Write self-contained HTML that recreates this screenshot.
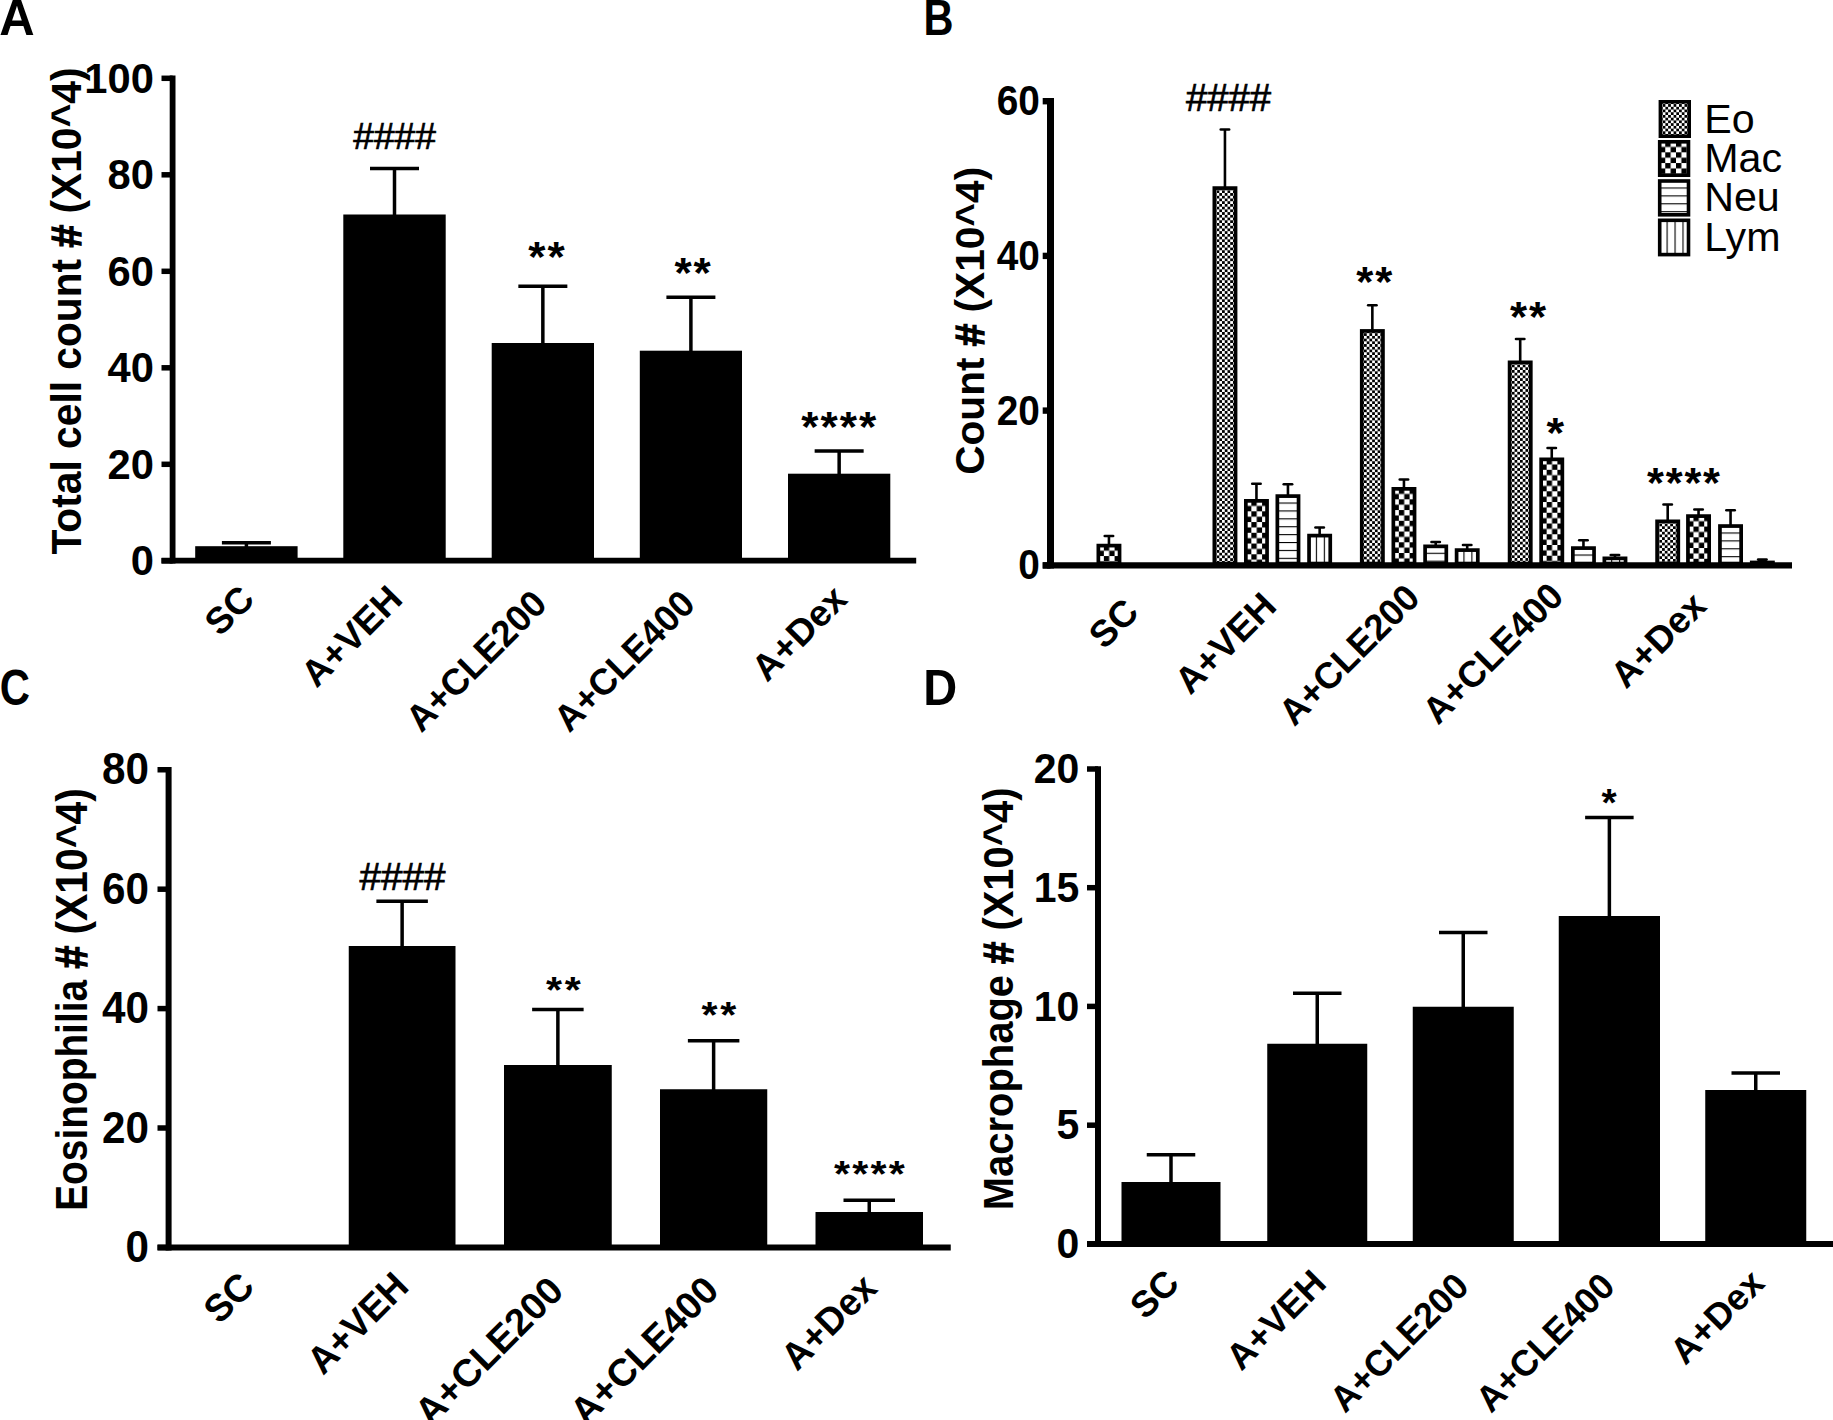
<!DOCTYPE html>
<html lang="en">
<head>
<meta charset="utf-8">
<title>Figure: BAL cell counts</title>
<style>
html,body{margin:0;padding:0;background:#fff;}
body{width:1833px;height:1420px;overflow:hidden;}
svg{display:block;}
svg text{font-family:"Liberation Sans", Arial, sans-serif;fill:#000;}
</style>
</head>
<body>
<svg width="1833" height="1420" viewBox="0 0 1833 1420">
<defs>
<pattern id="p-eo" x="1.36" y="1.36" width="5.45" height="5.45" patternUnits="userSpaceOnUse">
<rect width="5.45" height="5.45" fill="#fff"/>
<rect x="0" y="0" width="2.725" height="2.725" fill="#000"/>
<rect x="2.725" y="2.725" width="2.725" height="2.725" fill="#000"/>
</pattern>
<pattern id="p-mac" x="7.35" y="1.58" width="10.74" height="10.74" patternUnits="userSpaceOnUse">
<rect width="10.74" height="10.74" fill="#fff"/>
<rect x="0" y="0" width="5.37" height="5.37" fill="#000"/>
<rect x="5.37" y="5.37" width="5.37" height="5.37" fill="#000"/>
</pattern>
<pattern id="p-neu" x="0" y="0.35" width="7.9" height="7.9" patternUnits="userSpaceOnUse">
<rect width="7.9" height="7.9" fill="#fff"/>
<rect x="0" y="0" width="7.9" height="1.1" fill="#000"/>
</pattern>
<pattern id="p-lym" x="0.7" y="0" width="7.95" height="7.95" patternUnits="userSpaceOnUse">
<rect width="7.95" height="7.95" fill="#fff"/>
<rect x="0" y="0" width="1.1" height="7.95" fill="#000"/>
</pattern>
</defs>
<rect width="1833" height="1420" fill="#fff"/>

<text transform="translate(-0.8 34.9) scale(0.99 1)" font-size="49.5" font-weight="bold" text-anchor="start">A</text>
<text transform="translate(923.4 34.9) scale(0.84 1)" font-size="49.5" font-weight="bold" text-anchor="start">B</text>
<text transform="translate(-0.2 704.8) scale(0.845 1)" font-size="49.5" font-weight="bold" text-anchor="start">C</text>
<text transform="translate(923.2 704.5) scale(0.95 1)" font-size="49.5" font-weight="bold" text-anchor="start">D</text>
<line x1="246.4" y1="542.7" x2="246.4" y2="548.2" stroke="#000" stroke-width="3.5" stroke-linecap="butt"/>
<line x1="221.9" y1="542.7" x2="270.9" y2="542.7" stroke="#000" stroke-width="3.5" stroke-linecap="butt"/>
<rect x="195.20" y="546.20" width="102.40" height="14.40" fill="#000"/>
<line x1="394.5" y1="168.5" x2="394.5" y2="216.5" stroke="#000" stroke-width="3.5" stroke-linecap="butt"/>
<line x1="370.0" y1="168.5" x2="419.0" y2="168.5" stroke="#000" stroke-width="3.5" stroke-linecap="butt"/>
<rect x="343.30" y="214.50" width="102.40" height="346.10" fill="#000"/>
<line x1="542.85" y1="286.2" x2="542.85" y2="345.0" stroke="#000" stroke-width="3.5" stroke-linecap="butt"/>
<line x1="518.35" y1="286.2" x2="567.35" y2="286.2" stroke="#000" stroke-width="3.5" stroke-linecap="butt"/>
<rect x="491.70" y="343.00" width="102.30" height="217.60" fill="#000"/>
<line x1="690.9" y1="297.2" x2="690.9" y2="352.7" stroke="#000" stroke-width="3.5" stroke-linecap="butt"/>
<line x1="666.4" y1="297.2" x2="715.4" y2="297.2" stroke="#000" stroke-width="3.5" stroke-linecap="butt"/>
<rect x="639.80" y="350.70" width="102.20" height="209.90" fill="#000"/>
<line x1="839.15" y1="451.0" x2="839.15" y2="475.7" stroke="#000" stroke-width="3.5" stroke-linecap="butt"/>
<line x1="814.65" y1="451.0" x2="863.65" y2="451.0" stroke="#000" stroke-width="3.5" stroke-linecap="butt"/>
<rect x="788.00" y="473.70" width="102.30" height="86.90" fill="#000"/>
<line x1="172.6" y1="75.6" x2="172.6" y2="563.5" stroke="#000" stroke-width="5.8" stroke-linecap="butt"/>
<line x1="161.5" y1="560.6" x2="916.2" y2="560.6" stroke="#000" stroke-width="5.8" stroke-linecap="butt"/>
<line x1="161.5" y1="78.3" x2="172.6" y2="78.3" stroke="#000" stroke-width="5.5" stroke-linecap="butt"/>
<text transform="translate(153.9 92.77) scale(1 1.04)" font-size="41.7" font-weight="bold" text-anchor="end">100</text>
<line x1="161.5" y1="174.8" x2="172.6" y2="174.8" stroke="#000" stroke-width="5.5" stroke-linecap="butt"/>
<text transform="translate(153.9 189.27) scale(1 1.04)" font-size="41.7" font-weight="bold" text-anchor="end">80</text>
<line x1="161.5" y1="271.3" x2="172.6" y2="271.3" stroke="#000" stroke-width="5.5" stroke-linecap="butt"/>
<text transform="translate(153.9 285.77) scale(1 1.04)" font-size="41.7" font-weight="bold" text-anchor="end">60</text>
<line x1="161.5" y1="367.8" x2="172.6" y2="367.8" stroke="#000" stroke-width="5.5" stroke-linecap="butt"/>
<text transform="translate(153.9 382.27) scale(1 1.04)" font-size="41.7" font-weight="bold" text-anchor="end">40</text>
<line x1="161.5" y1="464.3" x2="172.6" y2="464.3" stroke="#000" stroke-width="5.5" stroke-linecap="butt"/>
<text transform="translate(153.9 478.77) scale(1 1.04)" font-size="41.7" font-weight="bold" text-anchor="end">20</text>
<line x1="161.5" y1="560.8" x2="172.6" y2="560.8" stroke="#000" stroke-width="5.5" stroke-linecap="butt"/>
<text transform="translate(153.9 575.27) scale(1 1.04)" font-size="41.7" font-weight="bold" text-anchor="end">0</text>
<text transform="translate(81.3 311) rotate(-90) scale(0.97 1)" font-size="42" font-weight="bold" text-anchor="middle">Total cell count <tspan stroke="#000" stroke-width="1.3" stroke-linejoin="miter">#</tspan> (X10^4)</text>
<text transform="translate(256.4 601.1) rotate(-45)" font-size="37" font-weight="bold" text-anchor="end">SC</text>
<text transform="translate(404.5 601.1) rotate(-45)" font-size="37" font-weight="bold" text-anchor="end">A+VEH</text>
<text transform="translate(548.85 606.1) rotate(-45) scale(0.98 1)" font-size="37" font-weight="bold" text-anchor="end">A+CLE200</text>
<text transform="translate(696.9 606.1) rotate(-45) scale(0.98 1)" font-size="37" font-weight="bold" text-anchor="end">A+CLE400</text>
<text transform="translate(849.15 601.1) rotate(-45)" font-size="37" font-weight="bold" text-anchor="end">A+Dex</text>
<text transform="translate(394.6 149.3)" font-size="37.2" font-weight="normal" text-anchor="middle" stroke="#000" stroke-width="0.7">####</text>
<line x1="1108.95" y1="536.0" x2="1108.95" y2="544.75" stroke="#000" stroke-width="2.6" stroke-linecap="butt"/>
<line x1="1104.75" y1="536.0" x2="1113.15" y2="536.0" stroke="#000" stroke-width="2.6" stroke-linecap="round"/>
<g transform="translate(1096.50 543.75)">
<rect x="1.85" y="1.85" width="21.20" height="17.95" fill="url(#p-mac)" stroke="#000" stroke-width="3.7"/>
</g>
<line x1="1224.95" y1="129.5" x2="1224.95" y2="187.25" stroke="#000" stroke-width="2.6" stroke-linecap="butt"/>
<line x1="1220.75" y1="129.5" x2="1229.15" y2="129.5" stroke="#000" stroke-width="2.6" stroke-linecap="round"/>
<g transform="translate(1212.50 186.25)">
<rect x="1.85" y="1.85" width="21.20" height="375.45" fill="url(#p-eo)" stroke="#000" stroke-width="3.7"/>
</g>
<line x1="1256.45" y1="483.75" x2="1256.45" y2="500.0" stroke="#000" stroke-width="2.6" stroke-linecap="butt"/>
<line x1="1252.25" y1="483.75" x2="1260.65" y2="483.75" stroke="#000" stroke-width="2.6" stroke-linecap="round"/>
<g transform="translate(1244.00 499.00)">
<rect x="1.85" y="1.85" width="21.20" height="62.70" fill="url(#p-mac)" stroke="#000" stroke-width="3.7"/>
</g>
<line x1="1287.95" y1="484.25" x2="1287.95" y2="495.25" stroke="#000" stroke-width="2.6" stroke-linecap="butt"/>
<line x1="1283.75" y1="484.25" x2="1292.15" y2="484.25" stroke="#000" stroke-width="2.6" stroke-linecap="round"/>
<g transform="translate(1275.50 494.25)">
<rect x="1.85" y="1.85" width="21.20" height="67.45" fill="url(#p-neu)" stroke="#000" stroke-width="3.7"/>
</g>
<line x1="1319.65" y1="527.5" x2="1319.65" y2="534.75" stroke="#000" stroke-width="2.6" stroke-linecap="butt"/>
<line x1="1315.45" y1="527.5" x2="1323.8500000000001" y2="527.5" stroke="#000" stroke-width="2.6" stroke-linecap="round"/>
<g transform="translate(1307.20 533.75)">
<rect x="1.85" y="1.85" width="21.20" height="27.95" fill="url(#p-lym)" stroke="#000" stroke-width="3.7"/>
</g>
<line x1="1372.3500000000001" y1="305.2" x2="1372.3500000000001" y2="330.1" stroke="#000" stroke-width="2.6" stroke-linecap="butt"/>
<line x1="1368.15" y1="305.2" x2="1376.5500000000002" y2="305.2" stroke="#000" stroke-width="2.6" stroke-linecap="round"/>
<g transform="translate(1359.90 329.10)">
<rect x="1.85" y="1.85" width="21.20" height="232.60" fill="url(#p-eo)" stroke="#000" stroke-width="3.7"/>
</g>
<line x1="1403.95" y1="479.5" x2="1403.95" y2="488.0" stroke="#000" stroke-width="2.6" stroke-linecap="butt"/>
<line x1="1399.75" y1="479.5" x2="1408.15" y2="479.5" stroke="#000" stroke-width="2.6" stroke-linecap="round"/>
<g transform="translate(1391.50 487.00)">
<rect x="1.85" y="1.85" width="21.20" height="74.70" fill="url(#p-mac)" stroke="#000" stroke-width="3.7"/>
</g>
<line x1="1435.7" y1="542.0" x2="1435.7" y2="545.5" stroke="#000" stroke-width="2.6" stroke-linecap="butt"/>
<line x1="1431.5" y1="542.0" x2="1439.9" y2="542.0" stroke="#000" stroke-width="2.6" stroke-linecap="round"/>
<g transform="translate(1423.25 544.50)">
<rect x="1.85" y="1.85" width="21.20" height="17.20" fill="url(#p-neu)" stroke="#000" stroke-width="3.7"/>
</g>
<line x1="1467.2" y1="545.0" x2="1467.2" y2="549.25" stroke="#000" stroke-width="2.6" stroke-linecap="butt"/>
<line x1="1463.0" y1="545.0" x2="1471.4" y2="545.0" stroke="#000" stroke-width="2.6" stroke-linecap="round"/>
<g transform="translate(1454.75 548.25)">
<rect x="1.85" y="1.85" width="21.20" height="13.45" fill="url(#p-lym)" stroke="#000" stroke-width="3.7"/>
</g>
<line x1="1520.2" y1="339.0" x2="1520.2" y2="361.5" stroke="#000" stroke-width="2.6" stroke-linecap="butt"/>
<line x1="1516.0" y1="339.0" x2="1524.4" y2="339.0" stroke="#000" stroke-width="2.6" stroke-linecap="round"/>
<g transform="translate(1507.75 360.50)">
<rect x="1.85" y="1.85" width="21.20" height="201.20" fill="url(#p-eo)" stroke="#000" stroke-width="3.7"/>
</g>
<line x1="1551.75" y1="448.0" x2="1551.75" y2="458.5" stroke="#000" stroke-width="2.6" stroke-linecap="butt"/>
<line x1="1547.55" y1="448.0" x2="1555.95" y2="448.0" stroke="#000" stroke-width="2.6" stroke-linecap="round"/>
<g transform="translate(1539.30 457.50)">
<rect x="1.85" y="1.85" width="21.20" height="104.20" fill="url(#p-mac)" stroke="#000" stroke-width="3.7"/>
</g>
<line x1="1583.45" y1="540.25" x2="1583.45" y2="547.25" stroke="#000" stroke-width="2.6" stroke-linecap="butt"/>
<line x1="1579.25" y1="540.25" x2="1587.65" y2="540.25" stroke="#000" stroke-width="2.6" stroke-linecap="round"/>
<g transform="translate(1571.00 546.25)">
<rect x="1.85" y="1.85" width="21.20" height="15.45" fill="url(#p-neu)" stroke="#000" stroke-width="3.7"/>
</g>
<line x1="1614.95" y1="555.0" x2="1614.95" y2="557.5" stroke="#000" stroke-width="2.6" stroke-linecap="butt"/>
<line x1="1610.75" y1="555.0" x2="1619.15" y2="555.0" stroke="#000" stroke-width="2.6" stroke-linecap="round"/>
<g transform="translate(1602.50 556.50)">
<rect x="1.85" y="1.85" width="21.20" height="5.20" fill="url(#p-lym)" stroke="#000" stroke-width="3.7"/>
</g>
<line x1="1667.7" y1="504.5" x2="1667.7" y2="520.5" stroke="#000" stroke-width="2.6" stroke-linecap="butt"/>
<line x1="1663.5" y1="504.5" x2="1671.9" y2="504.5" stroke="#000" stroke-width="2.6" stroke-linecap="round"/>
<g transform="translate(1655.25 519.50)">
<rect x="1.85" y="1.85" width="21.20" height="42.20" fill="url(#p-eo)" stroke="#000" stroke-width="3.7"/>
</g>
<line x1="1698.55" y1="509.5" x2="1698.55" y2="515.25" stroke="#000" stroke-width="2.6" stroke-linecap="butt"/>
<line x1="1694.35" y1="509.5" x2="1702.75" y2="509.5" stroke="#000" stroke-width="2.6" stroke-linecap="round"/>
<g transform="translate(1686.10 514.25)">
<rect x="1.85" y="1.85" width="21.20" height="47.45" fill="url(#p-mac)" stroke="#000" stroke-width="3.7"/>
</g>
<line x1="1730.55" y1="510.25" x2="1730.55" y2="525.2" stroke="#000" stroke-width="2.6" stroke-linecap="butt"/>
<line x1="1726.35" y1="510.25" x2="1734.75" y2="510.25" stroke="#000" stroke-width="2.6" stroke-linecap="round"/>
<g transform="translate(1718.10 524.20)">
<rect x="1.85" y="1.85" width="21.20" height="37.50" fill="url(#p-neu)" stroke="#000" stroke-width="3.7"/>
</g>
<line x1="1762.3500000000001" y1="559.6" x2="1762.3500000000001" y2="561.6" stroke="#000" stroke-width="2.6" stroke-linecap="butt"/>
<line x1="1758.15" y1="559.6" x2="1766.5500000000002" y2="559.6" stroke="#000" stroke-width="2.6" stroke-linecap="round"/>
<g transform="translate(1749.90 560.60)">
<rect x="1.85" y="1.85" width="21.20" height="1.10" fill="url(#p-lym)" stroke="#000" stroke-width="3.7"/>
</g>
<line x1="1050.5" y1="98.0" x2="1050.5" y2="568.6" stroke="#000" stroke-width="7.0" stroke-linecap="butt"/>
<line x1="1042.7" y1="565.4" x2="1792" y2="565.4" stroke="#000" stroke-width="6.4" stroke-linecap="butt"/>
<line x1="1042.7" y1="101.2" x2="1050.5" y2="101.2" stroke="#000" stroke-width="6.4" stroke-linecap="butt"/>
<text transform="translate(1039.9 115.2) scale(0.925 1)" font-size="42" font-weight="bold" text-anchor="end">60</text>
<line x1="1042.7" y1="255.9" x2="1050.5" y2="255.9" stroke="#000" stroke-width="6.4" stroke-linecap="butt"/>
<text transform="translate(1039.9 269.9) scale(0.925 1)" font-size="42" font-weight="bold" text-anchor="end">40</text>
<line x1="1042.7" y1="410.6" x2="1050.5" y2="410.6" stroke="#000" stroke-width="6.4" stroke-linecap="butt"/>
<text transform="translate(1039.9 424.6) scale(0.925 1)" font-size="42" font-weight="bold" text-anchor="end">20</text>
<line x1="1042.7" y1="565.4" x2="1050.5" y2="565.4" stroke="#000" stroke-width="6.4" stroke-linecap="butt"/>
<text transform="translate(1039.9 579.4) scale(0.925 1)" font-size="42" font-weight="bold" text-anchor="end">0</text>
<text transform="translate(984.3 320.8) rotate(-90) scale(0.988 1)" font-size="41.1" font-weight="bold" text-anchor="middle">Count <tspan stroke="#000" stroke-width="1.3" stroke-linejoin="miter">#</tspan> (X10^4)</text>
<text transform="translate(1140.65 614.1) rotate(-45)" font-size="37" font-weight="bold" text-anchor="end">SC</text>
<text transform="translate(1278.3 608.1) rotate(-45)" font-size="37" font-weight="bold" text-anchor="end">A+VEH</text>
<text transform="translate(1421.75 600.0) rotate(-45) scale(0.98 1)" font-size="37" font-weight="bold" text-anchor="end">A+CLE200</text>
<text transform="translate(1565.5 598.4) rotate(-45) scale(0.98 1)" font-size="37" font-weight="bold" text-anchor="end">A+CLE400</text>
<text transform="translate(1708.2 607.9) rotate(-45)" font-size="37" font-weight="bold" text-anchor="end">A+Dex</text>
<text transform="translate(1228.5 110.8)" font-size="38.3" font-weight="normal" text-anchor="middle" stroke="#000" stroke-width="0.7">####</text>
<g transform="translate(1658.60 100.00)">
<rect x="1.80" y="1.80" width="28.80" height="34.40" fill="url(#p-eo)" stroke="#000" stroke-width="3.6"/>
</g>
<text transform="translate(1704.2 132.8) scale(1.035 1)" font-size="39.8" font-weight="normal" text-anchor="start">Eo</text>
<g transform="translate(1657.90 140.00)">
<rect x="1.80" y="1.80" width="28.80" height="33.40" fill="url(#p-mac)" stroke="#000" stroke-width="3.6"/>
</g>
<text transform="translate(1704.2 172.1) scale(1.035 1)" font-size="39.8" font-weight="normal" text-anchor="start">Mac</text>
<g transform="translate(1657.90 179.20)">
<rect x="1.80" y="1.80" width="28.80" height="33.80" fill="url(#p-neu)" stroke="#000" stroke-width="3.6"/>
</g>
<text transform="translate(1704.2 211.4) scale(1.035 1)" font-size="39.8" font-weight="normal" text-anchor="start">Neu</text>
<g transform="translate(1657.90 218.50)">
<rect x="1.80" y="1.80" width="28.80" height="34.30" fill="url(#p-lym)" stroke="#000" stroke-width="3.6"/>
</g>
<text transform="translate(1704.2 250.9) scale(1.035 1)" font-size="39.8" font-weight="normal" text-anchor="start">Lym</text>
<line x1="402.125" y1="901.25" x2="402.125" y2="948.0" stroke="#000" stroke-width="3.5" stroke-linecap="butt"/>
<line x1="376.375" y1="901.25" x2="427.875" y2="901.25" stroke="#000" stroke-width="3.5" stroke-linecap="butt"/>
<rect x="348.75" y="946.00" width="106.75" height="301.50" fill="#000"/>
<line x1="557.875" y1="1009.5" x2="557.875" y2="1067.0" stroke="#000" stroke-width="3.5" stroke-linecap="butt"/>
<line x1="532.125" y1="1009.5" x2="583.625" y2="1009.5" stroke="#000" stroke-width="3.5" stroke-linecap="butt"/>
<rect x="504.00" y="1065.00" width="107.75" height="182.50" fill="#000"/>
<line x1="713.625" y1="1040.75" x2="713.625" y2="1091.25" stroke="#000" stroke-width="3.5" stroke-linecap="butt"/>
<line x1="687.875" y1="1040.75" x2="739.375" y2="1040.75" stroke="#000" stroke-width="3.5" stroke-linecap="butt"/>
<rect x="660.00" y="1089.25" width="107.25" height="158.25" fill="#000"/>
<line x1="869.25" y1="1200.25" x2="869.25" y2="1214.0" stroke="#000" stroke-width="3.5" stroke-linecap="butt"/>
<line x1="843.5" y1="1200.25" x2="895.0" y2="1200.25" stroke="#000" stroke-width="3.5" stroke-linecap="butt"/>
<rect x="815.50" y="1212.00" width="107.50" height="35.50" fill="#000"/>
<line x1="168.6" y1="766.95" x2="168.6" y2="1250.5" stroke="#000" stroke-width="6" stroke-linecap="butt"/>
<line x1="157.5" y1="1247.5" x2="950.75" y2="1247.5" stroke="#000" stroke-width="6" stroke-linecap="butt"/>
<line x1="157.5" y1="769.75" x2="168.6" y2="769.75" stroke="#000" stroke-width="5.5" stroke-linecap="butt"/>
<text transform="translate(148.9 784.39) scale(1 1.04)" font-size="42.2" font-weight="bold" text-anchor="end">80</text>
<line x1="157.5" y1="889.2" x2="168.6" y2="889.2" stroke="#000" stroke-width="5.5" stroke-linecap="butt"/>
<text transform="translate(148.9 903.84) scale(1 1.04)" font-size="42.2" font-weight="bold" text-anchor="end">60</text>
<line x1="157.5" y1="1008.6" x2="168.6" y2="1008.6" stroke="#000" stroke-width="5.5" stroke-linecap="butt"/>
<text transform="translate(148.9 1023.24) scale(1 1.04)" font-size="42.2" font-weight="bold" text-anchor="end">40</text>
<line x1="157.5" y1="1128.0" x2="168.6" y2="1128.0" stroke="#000" stroke-width="5.5" stroke-linecap="butt"/>
<text transform="translate(148.9 1142.64) scale(1 1.04)" font-size="42.2" font-weight="bold" text-anchor="end">20</text>
<line x1="157.5" y1="1247.5" x2="168.6" y2="1247.5" stroke="#000" stroke-width="5.5" stroke-linecap="butt"/>
<text transform="translate(148.9 1262.14) scale(1 1.04)" font-size="42.2" font-weight="bold" text-anchor="end">0</text>
<text transform="translate(86.7 1210.8) rotate(-90)" font-size="44.4" font-weight="bold" text-anchor="start" xml:space="preserve"><tspan textLength="230.9" lengthAdjust="spacingAndGlyphs">Eosinophilia</tspan><tspan textLength="191.8" lengthAdjust="spacingAndGlyphs"> <tspan stroke="#000" stroke-width="1.3">#</tspan> (X10^4)</tspan></text>
<text transform="translate(256.3 1288.5) rotate(-45) scale(0.98 1)" font-size="38.3" font-weight="bold" text-anchor="end">SC</text>
<text transform="translate(410.73 1288.3) rotate(-45) scale(0.965 1)" font-size="38.3" font-weight="bold" text-anchor="end">A+VEH</text>
<text transform="translate(565.48 1293.0) rotate(-45)" font-size="38.3" font-weight="bold" text-anchor="end">A+CLE200</text>
<text transform="translate(720.73 1292.5) rotate(-45)" font-size="38.3" font-weight="bold" text-anchor="end">A+CLE400</text>
<text transform="translate(879.05 1290.1) rotate(-45) scale(0.965 1)" font-size="38.3" font-weight="bold" text-anchor="end">A+Dex</text>
<text transform="translate(402.5 890.2)" font-size="38.7" font-weight="normal" text-anchor="middle" stroke="#000" stroke-width="0.7">####</text>
<line x1="1171.0" y1="1154.75" x2="1171.0" y2="1184.0" stroke="#000" stroke-width="3.5" stroke-linecap="butt"/>
<line x1="1146.75" y1="1154.75" x2="1195.25" y2="1154.75" stroke="#000" stroke-width="3.5" stroke-linecap="butt"/>
<rect x="1121.50" y="1182.00" width="99.00" height="62.00" fill="#000"/>
<line x1="1317.25" y1="993.25" x2="1317.25" y2="1045.75" stroke="#000" stroke-width="3.5" stroke-linecap="butt"/>
<line x1="1293.0" y1="993.25" x2="1341.5" y2="993.25" stroke="#000" stroke-width="3.5" stroke-linecap="butt"/>
<rect x="1267.25" y="1043.75" width="100.00" height="200.25" fill="#000"/>
<line x1="1463.25" y1="932.5" x2="1463.25" y2="1008.75" stroke="#000" stroke-width="3.5" stroke-linecap="butt"/>
<line x1="1439.0" y1="932.5" x2="1487.5" y2="932.5" stroke="#000" stroke-width="3.5" stroke-linecap="butt"/>
<rect x="1412.75" y="1006.75" width="101.00" height="237.25" fill="#000"/>
<line x1="1609.375" y1="817.5" x2="1609.375" y2="918.0" stroke="#000" stroke-width="3.5" stroke-linecap="butt"/>
<line x1="1585.125" y1="817.5" x2="1633.625" y2="817.5" stroke="#000" stroke-width="3.5" stroke-linecap="butt"/>
<rect x="1558.75" y="916.00" width="101.25" height="328.00" fill="#000"/>
<line x1="1755.75" y1="1073.0" x2="1755.75" y2="1092.0" stroke="#000" stroke-width="3.5" stroke-linecap="butt"/>
<line x1="1731.5" y1="1073.0" x2="1780.0" y2="1073.0" stroke="#000" stroke-width="3.5" stroke-linecap="butt"/>
<rect x="1705.25" y="1090.00" width="101.00" height="154.00" fill="#000"/>
<line x1="1098.0" y1="766.2" x2="1098.0" y2="1247.0" stroke="#000" stroke-width="6" stroke-linecap="butt"/>
<line x1="1087.0" y1="1244.0" x2="1835" y2="1244.0" stroke="#000" stroke-width="6" stroke-linecap="butt"/>
<line x1="1087.0" y1="769.0" x2="1098.0" y2="769.0" stroke="#000" stroke-width="5.5" stroke-linecap="butt"/>
<text transform="translate(1079.3 783.23) scale(1 1.04)" font-size="41" font-weight="bold" text-anchor="end">20</text>
<line x1="1087.0" y1="887.7" x2="1098.0" y2="887.7" stroke="#000" stroke-width="5.5" stroke-linecap="butt"/>
<text transform="translate(1079.3 901.93) scale(1 1.04)" font-size="41" font-weight="bold" text-anchor="end">15</text>
<line x1="1087.0" y1="1006.4" x2="1098.0" y2="1006.4" stroke="#000" stroke-width="5.5" stroke-linecap="butt"/>
<text transform="translate(1079.3 1020.63) scale(1 1.04)" font-size="41" font-weight="bold" text-anchor="end">10</text>
<line x1="1087.0" y1="1125.2" x2="1098.0" y2="1125.2" stroke="#000" stroke-width="5.5" stroke-linecap="butt"/>
<text transform="translate(1079.3 1139.43) scale(1 1.04)" font-size="41" font-weight="bold" text-anchor="end">5</text>
<line x1="1087.0" y1="1244.0" x2="1098.0" y2="1244.0" stroke="#000" stroke-width="5.5" stroke-linecap="butt"/>
<text transform="translate(1079.3 1258.23) scale(1 1.04)" font-size="41" font-weight="bold" text-anchor="end">0</text>
<text transform="translate(1013.1 998.8) rotate(-90) scale(0.951 1)" font-size="42" font-weight="bold" text-anchor="middle">Macrophage <tspan stroke="#000" stroke-width="1.3" stroke-linejoin="miter">#</tspan> (X10^4)</text>
<text transform="translate(1181.2 1285.0) rotate(-45)" font-size="36.5" font-weight="bold" text-anchor="end">SC</text>
<text transform="translate(1328.05 1285.3) rotate(-45)" font-size="36.5" font-weight="bold" text-anchor="end">A+VEH</text>
<text transform="translate(1470.75 1288.5) rotate(-45) scale(0.98 1)" font-size="36.5" font-weight="bold" text-anchor="end">A+CLE200</text>
<text transform="translate(1616.88 1288.5) rotate(-45) scale(0.98 1)" font-size="36.5" font-weight="bold" text-anchor="end">A+CLE400</text>
<text transform="translate(1766.25 1285.2) rotate(-45)" font-size="36.5" font-weight="bold" text-anchor="end">A+Dex</text>
<text transform="translate(528.2 271.38) scale(1.03 1)" font-size="43" font-weight="bold" text-anchor="start" letter-spacing="1.9">**</text>
<text transform="translate(674.4 287.43) scale(1.03 1)" font-size="43" font-weight="bold" text-anchor="start" letter-spacing="1.9">**</text>
<text transform="translate(801.35 440.63) scale(1.03 1)" font-size="43" font-weight="bold" text-anchor="start" letter-spacing="1.9">****</text>
<text transform="translate(1356.25 295.83) scale(1.02 1)" font-size="43" font-weight="bold" text-anchor="start" letter-spacing="1.8">**</text>
<text transform="translate(1510.1 330.83) scale(1.02 1)" font-size="43" font-weight="bold" text-anchor="start" letter-spacing="1.8">**</text>
<text transform="translate(1546.55 446.98) scale(1.05 1)" font-size="43" font-weight="bold" text-anchor="start">*</text>
<text transform="translate(1647.0 496.83) scale(1.01 1)" font-size="43" font-weight="bold" text-anchor="start" letter-spacing="1.78">****</text>
<text transform="translate(546.1 1003.24) scale(1.094 1)" font-size="37.6" font-weight="bold" text-anchor="start" letter-spacing="2.37">**</text>
<text transform="translate(701.6 1028.49) scale(1.094 1)" font-size="37.6" font-weight="bold" text-anchor="start" letter-spacing="2.37">**</text>
<text transform="translate(833.95 1187.44) scale(1.094 1)" font-size="37.6" font-weight="bold" text-anchor="start" letter-spacing="2.05">****</text>
<text transform="translate(1601.45 816.48) scale(1.026 1)" font-size="38" font-weight="bold" text-anchor="start">*</text>
</svg>
</body>
</html>
